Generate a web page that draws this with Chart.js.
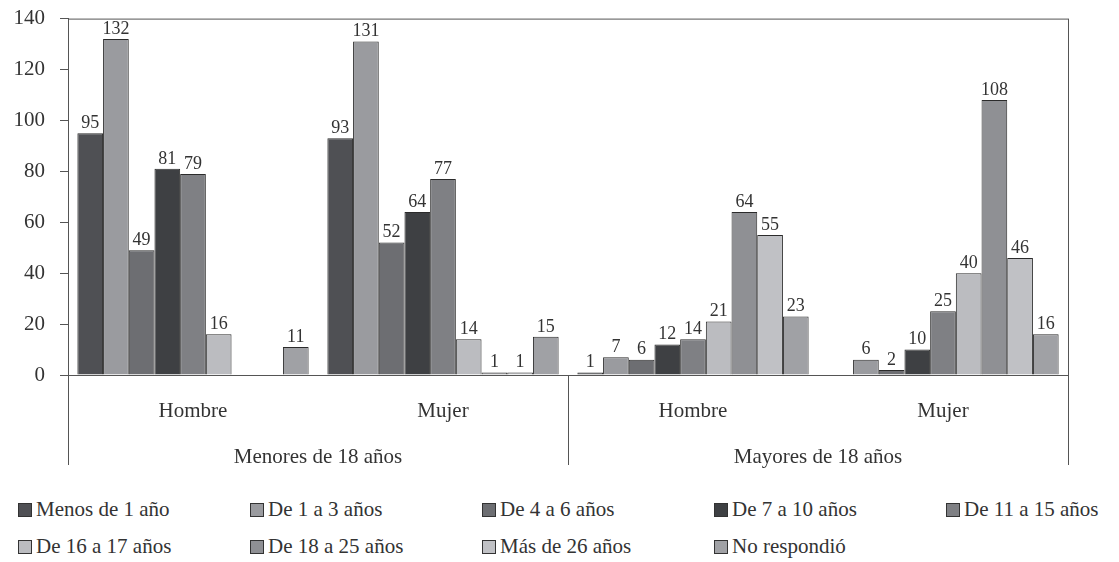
<!DOCTYPE html>
<html>
<head>
<meta charset="utf-8">
<script src="https://cdn.jsdelivr.net/npm/chart.js@4"></script>
<style>
    body { margin: 0; background: #fff; font-family: "Liberation Serif", "Times New Roman", Times, "DejaVu Serif", serif; }
    #wrap { position: relative; width: 1119px; height: 479px; margin-top: -9px; }
    #legend {
        position: absolute; left: 18px; top: 497px;
        display: grid; grid-template-columns: repeat(5, 232px);
        row-gap: 12px; color: #333; font-size: 21px;
    }
    .item { display: flex; align-items: center; height: 25px; white-space: nowrap; }
    .box { width: 12px; height: 12px; border: 1px solid #333; margin-right: 4px; }
</style>
</head>
<body>
<div id="wrap"><canvas id="chart"></canvas></div>
<div id="legend"></div>
<script>
const categories = ["Hombre", "Mujer", "Hombre", "Mujer"];
const groups = ["Menores de 18 años", "Mayores de 18 años"];
const seriesNames = ["Menos de 1 año", "De 1 a 3 años", "De 4 a 6 años", "De 7 a 10 años", "De 11 a 15 años",
    "De 16 a 17 años", "De 18 a 25 años", "Más de 26 años", "No respondió"];

const menosDe1 = [95, 93, 1, null];
const de1a3 = [132, 131, 7, 6];
const de4a6 = [49, 52, 6, 2];
const de7a10 = [81, 64, 12, 10];
const de11a15 = [79, 77, 14, 25];
const de16a17 = [16, 14, 21, 40];
const de18a25 = [null, 1, 64, 108];
const masDe26 = [null, 1, 55, 46];
const noRespondio = [11, 15, 23, 16];

const yTicks = [0, 20, 40, 60, 80, 100, 120, 140];

const seriesValues = [menosDe1, de1a3, de4a6, de7a10, de11a15, de16a17, de18a25, masDe26, noRespondio];
const colors = ["#4f5054", "#9a9b9f", "#6d6e72", "#3e4043", "#7f8084", "#bbbcc0", "#8f9094", "#c0c1c5", "#a0a1a5"];
const font = '"Liberation Serif", "Times New Roman", Times, "DejaVu Serif", serif';
const lineColor = "#555";

// value labels on top of each bar
const valueLabels = {
    id: "valueLabels",
    afterDatasetsDraw(chart) {
        const ctx = chart.ctx;
        ctx.save();
        ctx.font = `18px ${font}`;
        ctx.fillStyle = "#333";
        ctx.textAlign = "center";
        ctx.textBaseline = "bottom";
        chart.data.datasets.forEach((ds, i) => {
            chart.getDatasetMeta(i).data.forEach((bar, j) => {
                if (ds.data[j] == null) return;
                ctx.fillText(ds.data[j], bar.x, bar.y - 1);
            });
        });
        ctx.restore();
    }
};

// frame, dividers and second level labels
const frame = {
    id: "frame",
    afterDraw(chart) {
        const {ctx, chartArea} = chart;
        const x = chart.scales.x;
        const bottom = chartArea.bottom + 90;
        const mid = (x.getPixelForValue(1) + x.getPixelForValue(2)) / 2;
        ctx.save();
        ctx.strokeStyle = lineColor;
        ctx.lineWidth = 1;
        ctx.beginPath();
        ctx.moveTo(chartArea.left, chartArea.top + 0.5);
        ctx.lineTo(chartArea.right, chartArea.top + 0.5);
        ctx.moveTo(chartArea.right + 0.5, chartArea.top);
        ctx.lineTo(chartArea.right + 0.5, bottom);
        ctx.moveTo(chartArea.left + 0.5, chartArea.bottom);
        ctx.lineTo(chartArea.left + 0.5, bottom);
        ctx.moveTo(Math.round(mid) + 0.5, chartArea.bottom);
        ctx.lineTo(Math.round(mid) + 0.5, bottom);
        ctx.stroke();

        ctx.font = `21px ${font}`;
        ctx.fillStyle = "#333";
        ctx.textAlign = "center";
        ctx.textBaseline = "middle";
        ctx.fillText(groups[0], (chartArea.left + mid) / 2, chartArea.bottom + 82);
        ctx.fillText(groups[1], (mid + chartArea.right) / 2, chartArea.bottom + 82);
        ctx.restore();
    }
};

const chart = new Chart(document.getElementById("chart"), {
    type: "bar",
    data: {
        labels: categories,
        datasets: seriesValues.map((values, i) => ({
            label: seriesNames[i],
            data: values,
            backgroundColor: colors[i],
            borderColor: "#2b2b2b",
            borderWidth: 1,
            barPercentage: 1,
            categoryPercentage: 0.925,
        })),
    },
    options: {
        responsive: true,
        maintainAspectRatio: false,
        animation: false,
        layout: { padding: { top: 9, right: 51, left: 0, bottom: 0 } },
        plugins: {
            legend: { display: false },
            tooltip: { enabled: false },
        },
        scales: {
            x: {
                grid: { display: false },
                border: { display: true, color: lineColor },
                ticks: { color: "#333", font: { family: font, size: 21 }, padding: 16 },
                afterFit: (scale) => { scale.height = 95; },
            },
            y: {
                min: 0,
                max: 140,
                afterBuildTicks: (scale) => { scale.ticks = yTicks.map((v) => ({ value: v })); },
                grid: { drawOnChartArea: false, drawTicks: true, tickLength: 8, color: lineColor },
                border: { display: true, color: lineColor },
                ticks: { color: "#333", font: { family: font, size: 21 }, padding: 15 },
                afterFit: (scale) => { scale.width = 68; },
            },
        },
    },
    plugins: [valueLabels, frame],
});

// legend in a grid, as in the original
const legend = document.getElementById("legend");
chart.data.datasets.forEach((ds) => {
    const item = document.createElement("div");
    item.className = "item";
    const box = document.createElement("span");
    box.className = "box";
    box.style.background = ds.backgroundColor;
    item.appendChild(box);
    item.appendChild(document.createTextNode(ds.label));
    legend.appendChild(item);
});
</script>
</body>
</html>
